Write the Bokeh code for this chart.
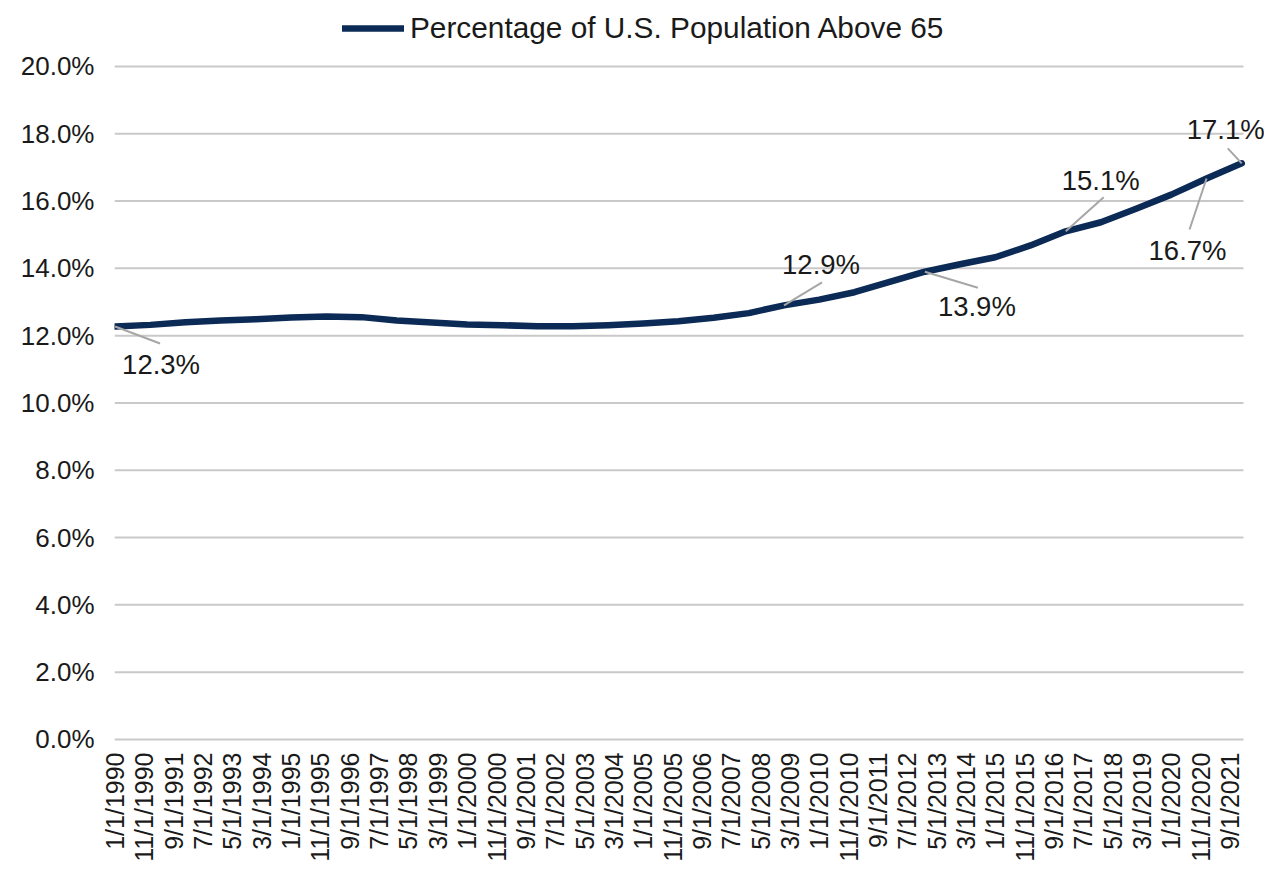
import numpy as np
from bokeh.plotting import figure
from bokeh.models import (Range1d, FixedTicker, Legend, LegendItem, ColumnDataSource,
                          PrintfTickFormatter)
from bokeh.core.properties import value
from bokeh.embed import file_html
from bokeh.resources import INLINE

# ---------------- data ----------------
dates = ["1/1/1990", "1/1/1991", "1/1/1992", "1/1/1993", "1/1/1994", "1/1/1995",
         "1/1/1996", "1/1/1997", "1/1/1998", "1/1/1999", "1/1/2000", "1/1/2001",
         "1/1/2002", "1/1/2003", "1/1/2004", "1/1/2005", "1/1/2006", "1/1/2007",
         "1/1/2008", "1/1/2009", "1/1/2010", "1/1/2011", "1/1/2012", "1/1/2013",
         "1/1/2014", "1/1/2015", "1/1/2016", "1/1/2017", "1/1/2018", "1/1/2019",
         "1/1/2020", "1/1/2021", "1/1/2022"]
pct_65 = [12.27, 12.32, 12.40, 12.45, 12.49, 12.54,
          12.57, 12.55, 12.45, 12.39, 12.33, 12.31,
          12.28, 12.28, 12.31, 12.36, 12.43, 12.53,
          12.67, 12.90, 13.07, 13.29, 13.60, 13.90,
          14.12, 14.33, 14.68, 15.10, 15.37, 15.77,
          16.19, 16.67, 17.12]

tick_labels = ["1/1/1990", "11/1/1990", "9/1/1991", "7/1/1992", "5/1/1993", "3/1/1994",
               "1/1/1995", "11/1/1995", "9/1/1996", "7/1/1997", "5/1/1998", "3/1/1999",
               "1/1/2000", "11/1/2000", "9/1/2001", "7/1/2002", "5/1/2003", "3/1/2004",
               "1/1/2005", "11/1/2005", "9/1/2006", "7/1/2007", "5/1/2008", "3/1/2009",
               "1/1/2010", "11/1/2010", "9/1/2011", "7/1/2012", "5/1/2013", "3/1/2014",
               "1/1/2015", "11/1/2015", "9/1/2016", "7/1/2017", "5/1/2018", "3/1/2019",
               "1/1/2020", "11/1/2020", "9/1/2021"]
y_ticks = [0, 2, 4, 6, 8, 10, 12, 14, 16, 18, 20]

label_dates = ["1/1/1990", "1/1/2009", "1/1/2013", "1/1/2017", "1/1/2021", "1/1/2022"]
label_values = [12.3, 12.9, 13.9, 15.1, 16.7, 17.1]

series_name = "Percentage of U.S. Population Above 65"

# ---------------- styles ----------------
FONT = "Liberation Sans"
LINE_COLOR = "#0c2a56"
GRID_COLOR = "#c9c9c9"
LEADER_COLOR = "#a6a6a6"
TEXT_COLOR = "#1a1a1a"
PLOT_W = 1129                     # width of the gridded plot area in px
X_START, GRID_END = -0.2, 384.6
PX_X = PLOT_W / (GRID_END - X_START)
FRAME_W = 1150                    # frame runs a little past the grid so end labels are not clipped
X_END = X_START + FRAME_W / PX_X
FRAME_H = 737
Y_START, Y_END = -0.06, 21.84     # frame extends above 20% so the legend sits inside it
PX_Y = FRAME_H / (Y_END - Y_START)

# label offsets (pixels): leader end and text centre relative to the point
leader_dx = [45, 38, 53, 38, -17, -14]
leader_dy = [17, -23, 16, -34, 51, -15]
text_dx = [46, 37, 52, 35, -19, -16]
text_dy = [38, -41, 35, -51, 72, -34]


def month_index(s):
    m, d, y = (int(v) for v in s.split("/"))
    return (y - 1990) * 12 + (m - 1)


xs = [month_index(s) for s in dates]
lookup = dict(zip(dates, pct_65))

p = figure(frame_width=FRAME_W, frame_height=FRAME_H,
           x_range=Range1d(X_START, X_END), y_range=Range1d(Y_START, Y_END),
           output_backend="svg", toolbar_location=None,
           min_border_left=114, min_border_right=0, min_border_top=4, min_border_bottom=124)
p.outline_line_color = None
p.background_fill_color = "white"
p.border_fill_color = "white"

# horizontal gridlines across the plot area
p.segment(x0=[X_START] * len(y_ticks), y0=y_ticks, x1=[GRID_END] * len(y_ticks), y1=y_ticks,
          line_color=GRID_COLOR, line_width=2)

r = p.line(xs, pct_65, line_color=LINE_COLOR, line_width=6.5, line_join="round", line_cap="round")

# annotations
ax = [month_index(s) for s in label_dates]
ay = [lookup[s] for s in label_dates]
src = ColumnDataSource(dict(
    x0=ax, y0=ay,
    x1=[a + dx / PX_X for a, dx in zip(ax, leader_dx)],
    y1=[b - dy / PX_Y for b, dy in zip(ay, leader_dy)],
    tx=[a + dx / PX_X for a, dx in zip(ax, text_dx)],
    ty=[b - dy / PX_Y for b, dy in zip(ay, text_dy)],
    txt=["%.1f%%" % v for v in label_values],
))
p.segment("x0", "y0", "x1", "y1", source=src, line_color=LEADER_COLOR, line_width=2)
p.text("tx", "ty", text="txt", source=src, text_font=value(FONT), text_font_size="27.5px",
       text_color=TEXT_COLOR, text_align="center", text_baseline="middle")

# axes
p.yaxis.ticker = FixedTicker(ticks=y_ticks)
p.yaxis.formatter = PrintfTickFormatter(format="%.1f%%")
p.yaxis.axis_line_color = None
p.yaxis.major_tick_line_color = None
p.yaxis.minor_tick_line_color = None
p.yaxis.major_tick_in = 0
p.yaxis.major_tick_out = 0
p.yaxis.major_label_standoff = 20
p.yaxis.major_label_text_font = FONT
p.yaxis.major_label_text_font_size = "26px"
p.yaxis.major_label_text_color = TEXT_COLOR

tick_pos = [month_index(s) for s in tick_labels]
p.xaxis.ticker = FixedTicker(ticks=tick_pos)
p.xaxis.major_label_overrides = {t: s for t, s in zip(tick_pos, tick_labels)}
p.xaxis.major_label_orientation = np.pi / 2
p.xaxis.axis_line_color = None
p.xaxis.major_tick_line_color = None
p.xaxis.minor_tick_line_color = None
p.xaxis.major_tick_in = 0
p.xaxis.major_tick_out = 0
p.xaxis.major_label_standoff = 11
p.xaxis.major_label_text_font = FONT
p.xaxis.major_label_text_font_size = "25px"
p.xaxis.major_label_text_color = TEXT_COLOR

p.xgrid.grid_line_color = None
p.ygrid.grid_line_color = None

legend = Legend(items=[LegendItem(label=series_name, renderers=[r])],
                location=(228, 696), orientation="horizontal",
                label_text_font=FONT, label_text_font_size="29.8px", label_text_color=TEXT_COLOR,
                glyph_width=62, glyph_height=30, label_height=30, label_standoff=6,
                padding=0, margin=0, border_line_color=None, background_fill_alpha=0)
p.add_layout(legend)

open("out.html", "w").write(file_html(p, INLINE))
